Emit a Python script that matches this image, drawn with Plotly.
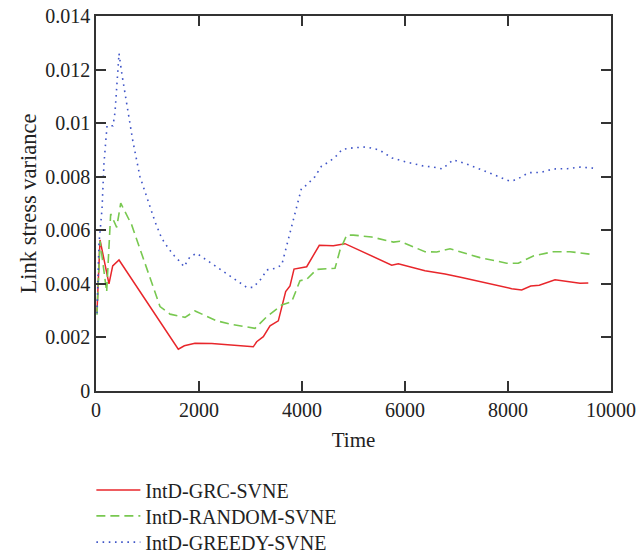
import plotly.graph_objects as go

# IntD-GRC-SVNE (red, solid)
grc_x = [19, 78, 252, 324, 447, 1598, 1715, 1922, 2247, 3054, 3120, 3249, 3379, 3540, 3683,
         3767, 3845, 4091, 4336, 4608, 4835, 5742, 5870, 6388, 6777, 7101, 8072, 8266, 8441,
         8608, 8913, 9398, 9559]
grc_y = [0.00296, 0.00564, 0.0040, 0.00467, 0.00489, 0.00156, 0.00169, 0.00178, 0.00177,
         0.00165, 0.00184, 0.00203, 0.00243, 0.00262, 0.00371, 0.00392, 0.00455, 0.00464,
         0.00544, 0.00542, 0.00550, 0.00470, 0.00475, 0.00449, 0.00437, 0.00424, 0.00382,
         0.00377, 0.00392, 0.00395, 0.00415, 0.00402, 0.00403]

# IntD-RANDOM-SVNE (green, dashed)
rnd_x = [19, 78, 207, 285, 402, 480, 693, 1243, 1437, 1728, 1922, 2150, 2344, 2602, 3087,
         3314, 3606, 3800, 3961, 4091, 4286, 4641, 4738, 4868, 4996, 5353, 5773, 5903, 6388,
         6616, 6874, 7456, 7975, 8200, 8491, 8880, 9204, 9625]
rnd_y = [0.00285, 0.00560, 0.00370, 0.00661, 0.00611, 0.00701, 0.00620, 0.00315, 0.00287,
         0.00275, 0.00299, 0.00280, 0.00262, 0.00250, 0.00234, 0.00277, 0.00321, 0.00333,
         0.00412, 0.00417, 0.00454, 0.00458, 0.00526, 0.00582, 0.00582, 0.00575, 0.00556,
         0.00559, 0.00520, 0.00519, 0.00531, 0.00498, 0.00477, 0.00477, 0.00504, 0.00520,
         0.00520, 0.00510]

# IntD-GREEDY-SVNE (blue, dotted)
grd_x = [19, 58, 117, 155, 214, 330, 369, 408, 447, 505, 602, 718, 854, 1035, 1146, 1276,
         1404, 1534, 1631, 1709, 1825, 1955, 2150, 2472, 2732, 2926, 3054, 3217, 3315, 3476,
         3606, 3734, 3831, 3928, 3990, 4091, 4250, 4380, 4510, 4640, 4780, 5000, 5250, 5500,
         5750, 6000, 6250, 6355, 6550, 6724, 6938, 7200, 7500, 7800, 8025, 8155, 8400, 8635,
         8880, 9150, 9398, 9656]
grd_y = [0.0029, 0.0055, 0.0068, 0.0085, 0.0099, 0.0099, 0.0104, 0.0116, 0.0126, 0.0118,
         0.0106, 0.0093, 0.0080, 0.00701, 0.00632, 0.00570, 0.00533, 0.00501, 0.00483,
         0.00464, 0.00501, 0.00514, 0.00489, 0.00445, 0.00414, 0.00387, 0.00387, 0.00421,
         0.00452, 0.00458, 0.00470, 0.00564, 0.00640, 0.00713, 0.00757, 0.00769, 0.00800,
         0.00840, 0.00854, 0.00872, 0.00902, 0.00908, 0.00911, 0.00900, 0.00870, 0.00856,
         0.00843, 0.00840, 0.00836, 0.00829, 0.00863, 0.00847, 0.00825, 0.00800, 0.00784,
         0.00788, 0.00815, 0.00816, 0.00829, 0.00830, 0.00836, 0.00832]

x_ticks = [0, 2000, 4000, 6000, 8000, 10000]
x_tick_labels = ["0", "2000", "4000", "6000", "8000", "10000"]
y_ticks = [0, 0.002, 0.004, 0.006, 0.008, 0.01, 0.012, 0.014]
y_tick_labels = ["0", "0.002", "0.004", "0.006", "0.008", "0.01", "0.012", "0.014"]

FONT = "Liberation Serif"
TXT = "#222222"

fig = go.Figure()
fig.add_trace(go.Scatter(x=grc_x, y=grc_y, mode="lines", name="IntD-GRC-SVNE",
                         line=dict(color="#e8262b", width=1.5), legend="legend"))
fig.add_trace(go.Scatter(x=rnd_x, y=rnd_y, mode="lines", name="IntD-RANDOM-SVNE",
                         line=dict(color="#78c850", width=1.6, dash="9px,5px"),
                         legend="legend2"))
fig.add_trace(go.Scatter(x=grd_x, y=grd_y, mode="lines", name="IntD-GREEDY-SVNE",
                         line=dict(color="#3f55c8", width=1.6, dash="1.6px,4.6px"),
                         legend="legend3"))

axis_common = dict(showline=True, linecolor="#333333", linewidth=1.5, mirror="ticks",
                   ticks="inside", ticklen=10, tickwidth=1.5, tickcolor="#333333",
                   showgrid=False, zeroline=False, automargin=False,
                   ticklabeloverflow="allow",
                   tickfont=dict(family=FONT, size=20, color=TXT))

fig.update_xaxes(range=[0, 10000], tickvals=x_ticks, ticktext=x_tick_labels,
                 title=dict(text="Time", font=dict(family=FONT, size=21, color=TXT),
                            standoff=13),
                 **axis_common)
fig.update_yaxes(range=[0, 0.014], tickvals=y_ticks, ticktext=y_tick_labels,
                 title=dict(text="Link stress variance",
                            font=dict(family=FONT, size=22.5, color=TXT), standoff=2),
                 **axis_common)

def leg(yc):
    return dict(x=-0.009, y=yc, xanchor="left", yanchor="middle",
                font=dict(family=FONT, size=20, color=TXT), itemwidth=44,
                bgcolor="rgba(0,0,0,0)", tracegroupgap=0)

fig.update_layout(
    width=639, height=554,
    margin=dict(l=96, r=28, t=16, b=163, autoexpand=False),
    plot_bgcolor="white", paper_bgcolor="white",
    font=dict(family=FONT, size=20, color=TXT),
    legend=leg(-0.264),
    legend2=leg(-0.333),
    legend3=leg(-0.403),
    showlegend=True,
)

fig.write_html("out.html", config={"displayModeBar": False},
               post_script="document.body.style.margin='0';document.body.style.overflow='hidden';")
